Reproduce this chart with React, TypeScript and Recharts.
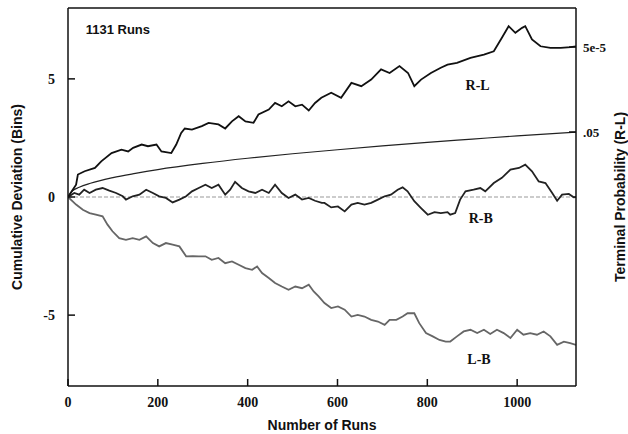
import React from 'react';
import { LineChart, Line, XAxis, YAxis, ReferenceLine, ReferenceDot, Label } from 'recharts';

// cumulative deviations, [run, bins]
const RL: [number, number][] = [
  [0, 0], [18, 0.52], [22, 0.95], [37, 1.09], [60, 1.23], [74, 1.51], [97, 1.86], [119, 2.0],
  [134, 1.93], [145, 2.08], [164, 2.22], [178, 2.15], [197, 2.22], [208, 1.93], [230, 1.86],
  [241, 2.22], [252, 2.71], [260, 2.9], [276, 2.85], [298, 3.0], [313, 3.14], [335, 3.07],
  [350, 2.9], [365, 3.2], [380, 3.42], [395, 3.2], [413, 3.14], [424, 3.49], [447, 3.7],
  [461, 3.98], [476, 3.84], [491, 4.05], [506, 3.84], [521, 3.91], [536, 3.66], [550, 3.98],
  [564, 4.2], [586, 4.41], [608, 4.2], [631, 4.83], [653, 4.69], [675, 4.97], [697, 5.4],
  [716, 5.25], [738, 5.54], [757, 5.25], [771, 4.69], [786, 4.97], [808, 5.25], [830, 5.47],
  [845, 5.6], [866, 5.68], [896, 5.89], [926, 6.03], [948, 6.17], [966, 6.74], [981, 7.23],
  [996, 6.95], [1011, 7.16], [1018, 7.23], [1033, 6.67], [1052, 6.38], [1074, 6.31],
  [1097, 6.31], [1119, 6.34], [1131, 6.38],
];

const RB: [number, number][] = [
  [0, 0], [14, 0.17], [25, 0.1], [36, 0.31], [48, 0.17], [62, 0.31], [77, 0.38], [92, 0.27],
  [107, 0.17], [122, 0.03], [129, -0.11], [144, 0.03], [159, 0.1], [174, 0.31], [189, 0.17],
  [203, 0.03], [218, -0.04], [233, -0.23], [248, -0.11], [263, 0.03], [276, 0.24], [291, 0.38],
  [306, 0.52], [320, 0.38], [335, 0.52], [350, 0.1], [361, 0.31], [372, 0.64], [387, 0.38],
  [402, 0.24], [417, 0.17], [432, 0.31], [447, 0.17], [461, 0.52], [476, 0.17], [491, -0.04],
  [506, 0.1], [521, -0.11], [536, -0.04], [550, -0.16], [565, -0.25], [571, -0.25],
  [586, -0.44], [601, -0.4], [616, -0.61], [631, -0.32], [645, -0.25], [660, -0.32],
  [675, -0.25], [690, -0.11], [705, 0.03], [719, 0.1], [734, 0.31], [745, 0.41], [756, 0.24],
  [771, -0.18], [786, -0.47], [801, -0.75], [816, -0.64], [830, -0.68], [845, -0.64],
  [851, -0.75], [862, -0.68], [873, -0.11], [885, 0.24], [903, 0.31], [918, 0.38],
  [929, 0.24], [948, 0.59], [966, 0.81], [985, 1.16], [1004, 1.23], [1018, 1.37],
  [1033, 1.09], [1048, 0.66], [1063, 0.59], [1078, 0.17], [1089, -0.16], [1100, 0.1],
  [1115, 0.13], [1126, -0.01], [1131, 0],
];

const LB: [number, number][] = [
  [0, 0], [18, -0.32], [33, -0.54], [48, -0.68], [62, -0.75], [77, -0.82], [88, -1.17],
  [99, -1.45], [114, -1.74], [129, -1.81], [144, -1.74], [159, -1.81], [174, -1.67],
  [189, -1.95], [203, -2.09], [218, -1.95], [233, -2.02], [248, -2.09], [263, -2.51],
  [278, -2.5], [291, -2.51], [306, -2.51], [320, -2.66], [335, -2.58], [350, -2.8],
  [365, -2.73], [380, -2.87], [395, -3.01], [410, -3.08], [421, -2.94], [432, -3.22],
  [447, -3.43], [461, -3.64], [476, -3.79], [491, -3.93], [506, -3.79], [521, -3.86],
  [536, -3.71], [547, -4.0], [558, -4.21], [571, -4.49], [586, -4.7], [601, -4.63],
  [616, -4.77], [631, -5.06], [645, -4.99], [660, -5.06], [675, -5.2], [690, -5.27],
  [705, -5.41], [716, -5.2], [731, -5.2], [745, -5.06], [756, -4.92], [771, -4.92],
  [782, -5.34], [797, -5.76], [812, -5.9], [827, -6.05], [841, -6.12], [851, -6.12],
  [866, -5.9], [881, -5.69], [896, -5.62], [911, -5.76], [926, -5.62], [940, -5.8],
  [955, -5.62], [970, -5.76], [985, -5.97], [1000, -5.62], [1014, -5.83], [1029, -5.76],
  [1044, -5.83], [1059, -5.69], [1074, -5.9], [1089, -6.26], [1104, -6.12], [1118, -6.19],
  [1131, -6.26],
];

// p = .05 criterion curve
const CRIT: [number, number][] = [
  [0, 0], [10, 0.26], [25, 0.41], [50, 0.58], [100, 0.82], [150, 1.0], [200, 1.16],
  [300, 1.42], [400, 1.64], [500, 1.83], [600, 2.0], [700, 2.16], [800, 2.31], [900, 2.45],
  [1000, 2.59], [1131, 2.75],
];

const X_TICKS = [0, 200, 400, 600, 800, 1000];
const LEFT_TICKS = [-5, 0, 5];
const RIGHT_TICKS = [2.75, 6.35];
const RIGHT_LABELS: Record<string, string> = { '2.75': '.05', '6.35': '5e-5' };

const toRows = (pts: [number, number][]) => pts.map(([n, v]) => ({ n, v }));

const serif = '"Liberation Serif", "Times New Roman", serif';
const sans = '"Liberation Sans", Arial, sans-serif';

if (typeof document !== 'undefined') document.body.style.margin = '0';

const LeftTick = ({ x, y, payload }: any) => (
  <g>
    <line x1={x + 13} x2={x + 20} y1={y} y2={y} stroke="#111" strokeWidth={1.5} />
    <text x={x} y={y} dy={5} textAnchor="end" fontFamily={serif} fontWeight="bold" fontSize={14} fill="#111">
      {payload.value}
    </text>
  </g>
);

const RightTick = ({ x, y, payload }: any) => (
  <g>
    <line x1={x - 7} x2={x - 14} y1={y} y2={y} stroke="#111" strokeWidth={1.5} />
    <text x={x} y={y} dy={5} textAnchor="start" fontFamily={serif} fontWeight="bold" fontSize={13} fill="#111">
      {RIGHT_LABELS[String(payload.value)]}
    </text>
  </g>
);

const BottomTick = ({ x, y, payload }: any) => (
  <g>
    <line x1={x} x2={x} y1={y - 10} y2={y - 17} stroke="#111" strokeWidth={1.5} />
    <text x={x} y={y} dy={11} textAnchor="middle" fontFamily={serif} fontWeight="bold" fontSize={14} fill="#111">
      {payload.value}
    </text>
  </g>
);

const curveLabel = (text: string) => (
  <Label value={text} position="center" fontFamily={serif} fontWeight="bold" fontSize={14} fill="#111" />
);

export default function App() {
  return (
    <div style={{ width: 628, height: 434, background: '#fff' }}>
      <LineChart width={628} height={434} margin={{ top: 8, right: 0, bottom: 0, left: 0 }}>
        <XAxis
          type="number"
          dataKey="n"
          domain={[0, 1131]}
          ticks={X_TICKS}
          allowDataOverflow
          height={48}
          tickSize={0}
          tickMargin={10}
          tickLine={false}
          tick={<BottomTick />}
          axisLine={{ stroke: '#111', strokeWidth: 1.5 }}
        >
          <Label value="Number of Runs" position="insideBottom" offset={4} fontFamily={sans} fontWeight="bold" fontSize={14} fill="#111" />
        </XAxis>
        <YAxis
          yAxisId="left"
          type="number"
          domain={[-8, 8]}
          ticks={LEFT_TICKS}
          allowDataOverflow
          width={68}
          tickSize={0}
          tickMargin={13}
          tickLine={false}
          tick={<LeftTick />}
          axisLine={{ stroke: '#111', strokeWidth: 1.5 }}
        >
          <Label value="Cumulative Deviation (Bins)" angle={-90} position="insideLeft" offset={17} style={{ textAnchor: 'middle' }} fontFamily={sans} fontWeight="bold" fontSize={14} fill="#111" />
        </YAxis>
        <YAxis
          yAxisId="right"
          orientation="right"
          type="number"
          domain={[-8, 8]}
          ticks={RIGHT_TICKS}
          allowDataOverflow
          width={52}
          tickSize={0}
          tickMargin={7}
          tickLine={false}
          tick={<RightTick />}
          axisLine={{ stroke: '#111', strokeWidth: 1.5 }}
        >
          <Label value="Terminal Probability (R-L)" angle={-90} position="insideRight" offset={8} style={{ textAnchor: 'middle' }} fontFamily={sans} fontWeight="bold" fontSize={14} fill="#111" />
        </YAxis>

        <ReferenceLine yAxisId="left" y={8} stroke="#111" strokeWidth={1.5} />
        <ReferenceLine yAxisId="left" y={0} stroke="#999" strokeWidth={1.2} strokeDasharray="4 2" />

        <Line yAxisId="left" data={toRows(CRIT)} dataKey="v" type="monotone" stroke="#222" strokeWidth={1.2} dot={false} isAnimationActive={false} />
        <Line yAxisId="left" data={toRows(LB)} dataKey="v" type="linear" stroke="#666" strokeWidth={1.8} dot={false} isAnimationActive={false} />
        <Line yAxisId="left" data={toRows(RB)} dataKey="v" type="linear" stroke="#222" strokeWidth={1.8} dot={false} isAnimationActive={false} />
        <Line yAxisId="left" data={toRows(RL)} dataKey="v" type="linear" stroke="#111" strokeWidth={1.8} dot={false} isAnimationActive={false} />

        <ReferenceDot yAxisId="left" x={111} y={7.08} r={0} fill="none" stroke="none">
          <Label value="1131 Runs" position="center" fontFamily={sans} fontWeight="bold" fontSize={13} fill="#111" />
        </ReferenceDot>
        <ReferenceDot yAxisId="left" x={912} y={4.75} r={0} fill="none" stroke="none">
          {curveLabel('R-L')}
        </ReferenceDot>
        <ReferenceDot yAxisId="left" x={919} y={-0.89} r={0} fill="none" stroke="none">
          {curveLabel('R-B')}
        </ReferenceDot>
        <ReferenceDot yAxisId="left" x={915} y={-6.86} r={0} fill="none" stroke="none">
          {curveLabel('L-B')}
        </ReferenceDot>
      </LineChart>
    </div>
  );
}
